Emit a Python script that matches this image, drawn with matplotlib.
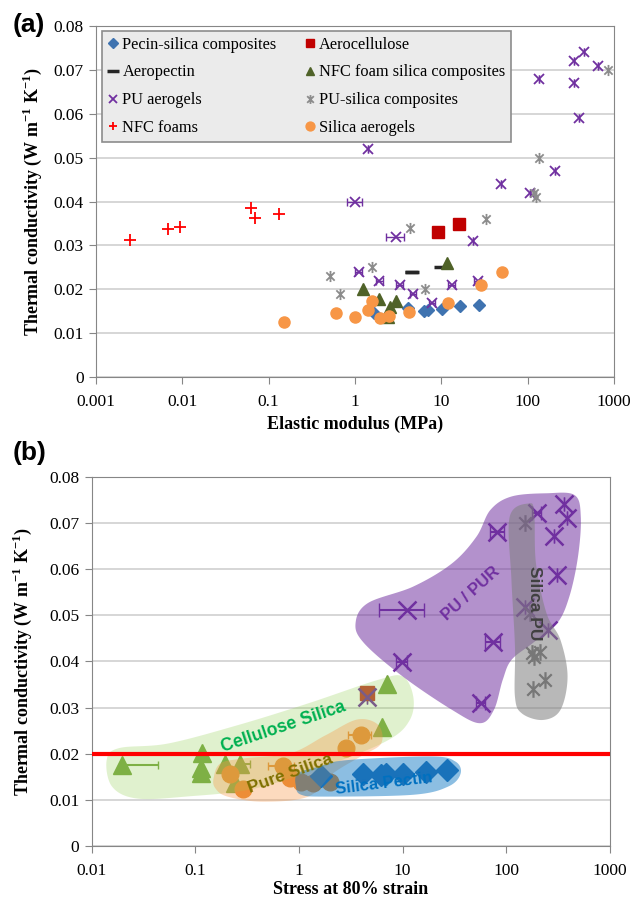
import numpy as np
import matplotlib
matplotlib.use('Agg')
import matplotlib.pyplot as plt
from matplotlib.path import Path

plt.rcParams['font.family'] = 'serif'
plt.rcParams['font.serif'] = ['Liberation Serif', 'DejaVu Serif']
plt.rcParams['mathtext.fontset'] = 'custom'
plt.rcParams['mathtext.rm'] = 'Liberation Serif'
plt.rcParams['mathtext.bf'] = 'Liberation Serif:bold'

# ---------------- panel (a) data: elastic modulus (MPa) vs conductivity
pectin_x = [1.66, 4.15, 6.32, 6.94, 10.1, 16.6, 27]
pectin_y = [0.01455, 0.0158, 0.0150, 0.0152, 0.01545, 0.0161, 0.01636]
aerocell_x = [9.06, 16.2]
aerocell_y = [0.033, 0.035]
aeropectin_x = [4.6, 10]
aeropectin_y = [0.024, 0.025]
aeropectin_err = [0.8, 0]
nfcsil_x = [1.25, 1.88, 2.57, 2.95, 2.4, 11.6]
nfcsil_y = [0.020, 0.0178, 0.016, 0.0174, 0.0138, 0.0259]
pu_x = [1.0, 1.41, 3.0, 23.4, 1.1, 1.92, 3.3, 4.7, 7.8, 13.3, 26.3, 49.7,
        107, 135, 206, 345, 345, 397, 452, 659]
pu_y = [0.040, 0.052, 0.032, 0.031, 0.024, 0.022, 0.021, 0.019, 0.017, 0.021,
        0.022, 0.044, 0.042, 0.068, 0.047, 0.072, 0.067, 0.059, 0.074, 0.071]
pu_err = [0.2, 0, 0.7, 0, 0.1, 0.17, 0.3, 0.42, 0.7, 1.2, 2.4, 0,
          0, 0, 0, 0, 0, 0, 0, 0]
pusil_x = [0.516, 0.668, 1.57, 4.36, 6.5, 32.6, 119, 124, 135, 861]
pusil_y = [0.023, 0.019, 0.025, 0.034, 0.020, 0.036, 0.042, 0.041, 0.050, 0.070]
nfc_x = [0.0025, 0.0068, 0.0095, 0.063, 0.0697, 0.130]
nfc_y = [0.0312, 0.0338, 0.0341, 0.0386, 0.0362, 0.0371]
silica_x = [0.152, 0.598, 1.0, 1.43, 1.57, 1.96, 2.46, 4.23, 12.1, 28.8, 51]
silica_y = [0.0126, 0.0147, 0.0138, 0.0153, 0.0174, 0.0134, 0.0139, 0.0149,
            0.0170, 0.0210, 0.0240]

# ---------------- panel (b) data: stress at 80% strain vs conductivity
b_cell_x = [0.0194, 0.115, 0.113, 0.113, 0.193, 0.268, 0.239, 6.4, 7.03]
b_cell_y = [0.0176, 0.0201, 0.0168, 0.0159, 0.0178, 0.0177, 0.0136, 0.0258, 0.0351]
b_cell_err = [0.024, 0, 0, 0, 0, 0.07, 0, 0, 0]
b_sil_x = [0.216, 0.286, 0.695, 0.81, 2.83, 3.95, 1.05, 1.38, 1.99]
b_sil_y = [0.0155, 0.0124, 0.0173, 0.0147, 0.0213, 0.0240, 0.0139, 0.0136, 0.0139]
b_sil_err = [0, 0, 0.19, 0, 0, 1.0, 0, 0, 0]
b_pec_x = [1.63, 4.14, 6.17, 6.9, 10.1, 16.8, 27.1]
b_pec_y = [0.0152, 0.0157, 0.0154, 0.0156, 0.0157, 0.0161, 0.0165]
b_pu_x = [11.0, 9.9, 56.8, 74.6, 82.6, 198, 292, 310, 363, 392, 256, 151, 4.54]
b_pu_y = [0.0511, 0.0399, 0.0309, 0.0441, 0.0681, 0.0721, 0.0671, 0.0588,
          0.0740, 0.0711, 0.0468, 0.0518, 0.0323]
b_pu_err = [5.1, 1.2, 6, 12, 12, 20, 0, 0, 0, 0, 0, 0, 0]
b_pusil_x = [153, 170, 180, 212, 185, 183, 240]
b_pusil_y = [0.0700, 0.0504, 0.0417, 0.0421, 0.0410, 0.0340, 0.0360]
b_aerocell_x = [4.54]
b_aerocell_y = [0.0331]

# outlines of the shaded groups in (b): log10(x) and y
green_lx = [-1.858, -1.739, -1.265, -0.588, 0.089, 0.766, 1.003, 1.104, 1.070,
            0.867, 0.326, -0.419, -1.096, -1.570, -1.807]
green_y = [0.0186, 0.0212, 0.0222, 0.0262, 0.0309, 0.0360, 0.0367, 0.0323,
           0.0273, 0.0230, 0.0179, 0.0125, 0.0107, 0.0103, 0.0129]
orange_lx = [-0.825, -0.758, -0.521, -0.081, 0.258, 0.563, 0.766, 0.793, 0.596,
             0.326, 0.089, -0.351, -0.690, -0.808]
orange_y = [0.0147, 0.0179, 0.0190, 0.0201, 0.0240, 0.0274, 0.0262, 0.0222,
            0.0194, 0.0157, 0.0107, 0.0096, 0.0107, 0.0125]
blue_lx = [-0.030, -0.013, 0.190, 0.461, 1.274, 1.510, 1.561, 1.443, 1.104, 0.258, 0.021]
blue_y = [0.0129, 0.0157, 0.0172, 0.0186, 0.0194, 0.0183, 0.0157, 0.0129,
          0.0111, 0.0107, 0.0111]
purple_lx = [0.546, 0.664, 1.104, 1.477, 1.714, 1.849, 2.052, 2.391, 2.662, 2.722,
             2.695, 2.611, 2.492, 2.255, 2.052, 1.968, 1.883, 1.748, 1.477, 1.003, 0.630]
purple_y = [0.0482, 0.0526, 0.0562, 0.0612, 0.0670, 0.0728, 0.0757, 0.0764,
            0.0760, 0.0713, 0.0627, 0.0540, 0.0482, 0.0439, 0.0403, 0.0360,
            0.0295, 0.0266, 0.0295, 0.0367, 0.0439]
gray_lx = [2.221, 2.035, 2.052, 2.086, 2.086, 2.154, 2.357, 2.526, 2.594, 2.526,
           2.391, 2.289, 2.272]
gray_y = [0.0742, 0.0713, 0.0576, 0.0432, 0.0323, 0.0287, 0.0273, 0.0295,
          0.0367, 0.0446, 0.0504, 0.0612, 0.0721]

xticks_a = [0.001, 0.01, 0.1, 1, 10, 100, 1000]
xticks_b = [0.01, 0.1, 1, 10, 100, 1000]
yticks = [0, 0.01, 0.02, 0.03, 0.04, 0.05, 0.06, 0.07, 0.08]

# asterisk like marker: x plus vertical bar
star = Path([(0, -1), (0, 1), (-0.75, -0.75), (0.75, 0.75), (-0.75, 0.75), (0.75, -0.75)],
            [Path.MOVETO, Path.LINETO] * 3)

YLAB = r'Thermal conductivity (W m$^{\mathbf{-1}}$ K$^{\mathbf{-1}}$)'


def smooth_blob(ax, lx, y, **kw):
    lx = np.array(lx)
    y = np.array(y)
    n = len(lx)
    px, py = [], []
    for i in range(n):
        idx = [(i - 1) % n, i, (i + 1) % n, (i + 2) % n]
        x0, x1, x2, x3 = lx[idx]
        y0, y1, y2, y3 = y[idx]
        for t in np.linspace(0, 1, 25, endpoint=False):
            t2, t3 = t * t, t * t * t
            px.append(0.5 * (2 * x1 + (-x0 + x2) * t + (2 * x0 - 5 * x1 + 4 * x2 - x3) * t2
                             + (-x0 + 3 * x1 - 3 * x2 + x3) * t3))
            py.append(0.5 * (2 * y1 + (-y0 + y2) * t + (2 * y0 - 5 * y1 + 4 * y2 - y3) * t2
                             + (-y0 + 3 * y1 - 3 * y2 + y3) * t3))
    ax.fill(10 ** np.array(px), py, lw=0, **kw)


def style_axes(ax, xticks, ylabelpad):
    ax.set_xscale('log')
    ax.set_xlim(xticks[0], xticks[-1])
    ax.set_ylim(0, 0.08)
    ax.set_xticks(xticks)
    ax.set_xticklabels(['%g' % v for v in xticks])
    ax.minorticks_off()
    ax.set_yticks(yticks)
    ax.set_yticklabels(['%g' % v for v in yticks])
    ax.yaxis.grid(True, color='#d0d0d0', lw=1.2)
    ax.set_axisbelow(True)
    for s in ax.spines.values():
        s.set_color('#868686')
    ax.tick_params(direction='out', length=5, color='#868686', labelsize=12.5)
    ax.tick_params(axis='x', pad=7)
    ax.tick_params(axis='y', pad=4)
    ax.set_ylabel(YLAB, fontsize=13, fontweight='bold', labelpad=ylabelpad)


fig = plt.figure(figsize=(6.33, 8.98), dpi=100)

# ================= (a)
ax = fig.add_axes([0.1517, 0.580, 0.8183, 0.391])
style_axes(ax, xticks_a, 7)
ax.set_xlabel('Elastic modulus (MPa)', fontsize=13, fontweight='bold', labelpad=4)

ax.errorbar(pu_x, pu_y, xerr=pu_err, fmt='none', ecolor='#7030a0', elinewidth=1,
            capsize=3, zorder=3)
ax.errorbar(aeropectin_x, aeropectin_y, xerr=aeropectin_err, fmt='none',
            ecolor='#262626', elinewidth=2.5, capsize=0, zorder=3)

h_pec, = ax.plot(pectin_x, pectin_y, 'D', ms=6, color='#3f73b0', ls='none',
                 label='Pecin-silica composites', zorder=4)
h_ac, = ax.plot(aerocell_x, aerocell_y, 's', ms=8, color='#c00000', ls='none',
                label='Aerocellulose', zorder=4)
h_ap, = ax.plot(aeropectin_x, aeropectin_y, '_', ms=10, mew=2.5, color='#262626',
                ls='none', label='Aeropectin', zorder=4)
h_ns, = ax.plot(nfcsil_x, nfcsil_y, '^', ms=8, color='#4f6228', ls='none',
                label='NFC foam silica composites', zorder=4)
h_pu, = ax.plot(pu_x, pu_y, 'x', ms=7, mew=1.3, color='#7030a0', ls='none',
                label='PU aerogels', zorder=4)
h_ps, = ax.plot(pusil_x, pusil_y, marker=star, ms=8, mew=1.3, color='#8c8c8c',
                ls='none', label='PU-silica composites', zorder=4)
h_nf, = ax.plot(nfc_x, nfc_y, '+', ms=8, mew=1.3, color='#ff0000', ls='none',
                label='NFC foams', zorder=4)
h_si, = ax.plot(silica_x, silica_y, 'o', ms=8, color='#f79646', ls='none',
                label='Silica aerogels', zorder=4)

handles = [h_pec, h_ap, h_pu, h_nf, h_ac, h_ns, h_ps, h_si]
leg = ax.legend(handles=handles, ncol=2, loc='upper left',
                bbox_to_anchor=(0.0115, 0.670, 0.79, 0.316), mode='expand',
                borderaxespad=0, fontsize=11.8, markerscale=0.8, handlelength=0.7,
                handletextpad=0.2, labelspacing=0.72, borderpad=0.35,
                columnspacing=1.0, fancybox=False, framealpha=1,
                facecolor='#ebebeb', edgecolor='#8c8c8c')
leg.get_frame().set_linewidth(1.2)

# ================= (b)
ax2 = fig.add_axes([0.1453, 0.0579, 0.8177, 0.4113])
style_axes(ax2, xticks_b, 11)
ax2.set_xlabel('Stress at 80% strain', fontsize=13, fontweight='bold', labelpad=2)

ax2.errorbar(b_cell_x, b_cell_y, xerr=[[0] * len(b_cell_err), b_cell_err], fmt='none',
             ecolor='#77a441', elinewidth=1.5, capsize=3, zorder=2)
ax2.errorbar(b_sil_x, b_sil_y, xerr=b_sil_err, fmt='none', ecolor='#e8892f',
             elinewidth=1.5, capsize=3, zorder=2)
ax2.errorbar(b_pu_x, b_pu_y, xerr=b_pu_err, fmt='none', ecolor='#7030a0',
             elinewidth=1.5, capsize=5, zorder=2)
ax2.plot(b_cell_x, b_cell_y, '^', ms=13, color='#77a441', ls='none', zorder=2)
ax2.plot(b_sil_x, b_sil_y, 'o', ms=12, color='#e8892f', ls='none', zorder=2)
ax2.plot(b_pec_x, b_pec_y, 'D', ms=11, color='#2e75b6', ls='none', zorder=2)
ax2.plot(b_aerocell_x, b_aerocell_y, 's', ms=10, color='#c0392b', ls='none', zorder=2)
ax2.plot(b_pu_x, b_pu_y, 'x', ms=13, mew=1.8, color='#7030a0', ls='none', zorder=2)
ax2.plot(b_pusil_x, b_pusil_y, marker=star, ms=12, mew=1.6, color='#6e6e6e',
         ls='none', zorder=2)

smooth_blob(ax2, green_lx, green_y, color='#92d050', alpha=0.28, zorder=3)
smooth_blob(ax2, orange_lx, orange_y, color='#f79646', alpha=0.35, zorder=3)
smooth_blob(ax2, blue_lx, blue_y, color='#0070c0', alpha=0.45, zorder=3)
smooth_blob(ax2, purple_lx, purple_y, color='#7030a0', alpha=0.53, zorder=3)
smooth_blob(ax2, gray_lx, gray_y, color='#7f7f7f', alpha=0.55, zorder=3)

ax2.axhline(0.02, color='#ff0000', lw=3, zorder=4)

lab = dict(family='Liberation Sans', fontweight='bold',
           ha='center', va='center', zorder=5)
ax2.text(0.71, 0.0258, 'Cellulose Silica', color='#00b050', rotation=18.5,
         fontsize=12.8, **lab)
ax2.text(0.83, 0.0157, 'Pure Silica', color='#7f7000', rotation=20, fontsize=12.5, **lab)
ax2.text(6.56, 0.0136, 'Silica Pectin', color='#0070c0', rotation=7, fontsize=12, **lab)
ax2.text(46, 0.0547, 'PU / PUR', color='#7030a0', rotation=42, fontsize=12, **lab)
ax2.text(187, 0.0526, 'Silica PU', color='#404040', rotation=-90, fontsize=12.5, **lab)

fig.text(0.02, 0.972, '(a)', family='Liberation Sans', fontweight='bold',
         fontsize=19, va='center', ha='left')
fig.text(0.02, 0.4955, '(b)', family='Liberation Sans', fontweight='bold',
         fontsize=19, va='center', ha='left')

fig.savefig('out.png', dpi=100)
